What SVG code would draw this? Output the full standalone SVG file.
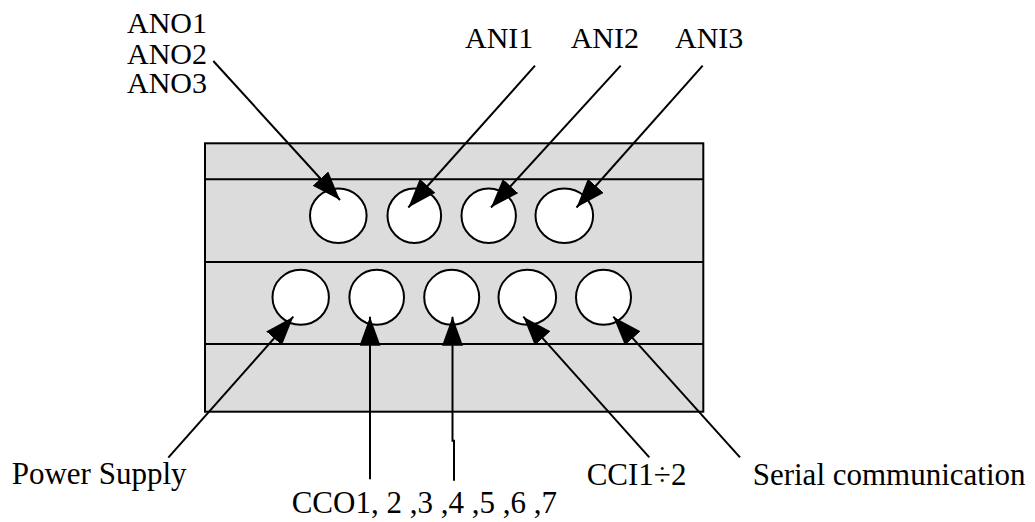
<svg xmlns="http://www.w3.org/2000/svg" width="1035" height="522" viewBox="0 0 1035 522">
<style>
.box{fill:#dcdcdc;stroke:#000;stroke-width:2}
.div{stroke:#000;stroke-width:2;fill:none}
.port{fill:#fff;stroke:#000;stroke-width:2}
.conn{stroke:#000;stroke-width:2;fill:none;marker-end:url(#ah)}
.lbl{font-family:"Liberation Serif","Times New Roman",serif;font-size:30px;fill:#000}
.lblb{font-family:"Liberation Serif","Times New Roman",serif;font-size:31px;fill:#000}
</style>
<defs>
<marker id="ah" markerUnits="userSpaceOnUse" markerWidth="30" markerHeight="22" refX="29" refY="10.5" orient="auto">
<path d="M0,0 L29,10.5 L0,21 z" fill="#000"/>
</marker>
</defs>
<g id="module">
<rect class="box" x="205" y="143.3" width="498.3" height="268.4"/>
<line class="div" x1="205" y1="179.3" x2="703.3" y2="179.3"/>
<line class="div" x1="205" y1="262" x2="703.3" y2="262"/>
<line class="div" x1="205" y1="344" x2="703.3" y2="344"/>
</g>
<g id="port-ano"><ellipse class="port" cx="338.3" cy="215.7" rx="28.3" ry="27.2"/></g>
<g id="port-ani1"><ellipse class="port" cx="414.3" cy="215.7" rx="26.8" ry="27.2"/></g>
<g id="port-ani2"><ellipse class="port" cx="488.7" cy="215.7" rx="27.2" ry="27.2"/></g>
<g id="port-ani3"><ellipse class="port" cx="564.3" cy="215.7" rx="28.8" ry="27.2"/></g>
<g id="port-power"><ellipse class="port" cx="300.7" cy="297.3" rx="28.2" ry="27.5"/></g>
<g id="port-cco1"><ellipse class="port" cx="376.7" cy="297.3" rx="27.3" ry="27.5"/></g>
<g id="port-cco2"><ellipse class="port" cx="451.7" cy="297.3" rx="27.5" ry="27.5"/></g>
<g id="port-cci"><ellipse class="port" cx="527.3" cy="297.3" rx="28.8" ry="27.5"/></g>
<g id="port-serial"><ellipse class="port" cx="603.5" cy="297.3" rx="27.5" ry="27.5"/></g>
<g id="connectors">
<line class="conn" x1="213.3" y1="61" x2="340" y2="200"/>
<line class="conn" x1="535" y1="65.7" x2="408.3" y2="207.5"/>
<line class="conn" x1="620.7" y1="65.7" x2="491" y2="207.5"/>
<line class="conn" x1="702.7" y1="65.7" x2="576.5" y2="207.5"/>
<line class="conn" x1="168.3" y1="457.7" x2="293.3" y2="316.7"/>
<line class="conn" x1="370" y1="479.3" x2="370" y2="316.7"/>
<polyline class="conn" points="454,480.7 454,440.7 452.5,440.7 452.5,316.7"/>
<line class="conn" x1="649.3" y1="457.3" x2="523.3" y2="316.7"/>
<line class="conn" x1="740" y1="457.3" x2="613.3" y2="316.7"/>
</g>
<g id="labels">
<text class="lbl" x="127" y="33.3">ANO1</text>
<text class="lbl" x="127" y="63.5">ANO2</text>
<text class="lbl" x="127" y="93.3">ANO3</text>
<text class="lbl" x="465" y="48.3">ANI1</text>
<text class="lbl" x="570.7" y="48.3">ANI2</text>
<text class="lbl" x="675" y="48.3">ANI3</text>
<text class="lblb" x="11.7" y="484">Power Supply</text>
<text class="lblb" x="291.7" y="513" xml:space="preserve">CCO1, 2 ,3 ,4 ,5 ,6 ,7</text>
<text class="lblb" x="586.7" y="485">CCI1÷2</text>
<text class="lblb" x="752.7" y="485">Serial communication</text>
</g>
</svg>
